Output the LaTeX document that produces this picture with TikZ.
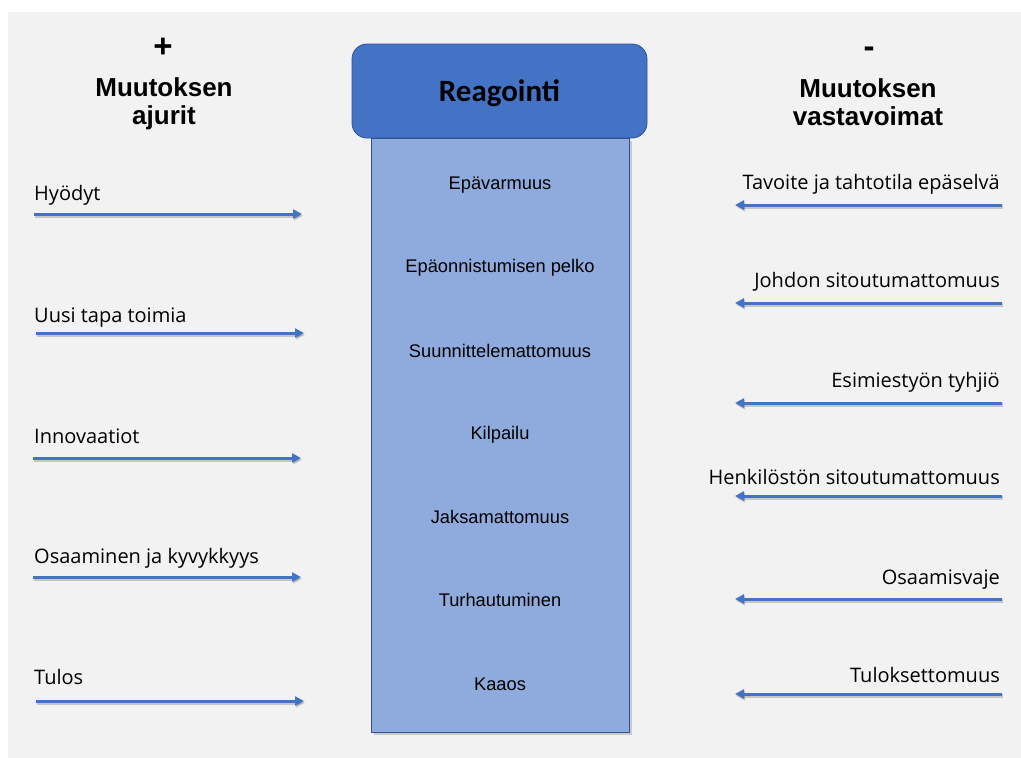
\documentclass[tikz,border=0pt]{standalone}
\usepackage{fontspec}
\setmainfont{Open Sans}
\newfontfamily\arialfont{Liberation Sans}
\newfontfamily\calibrifont{Carlito}
\usepackage{xcolor}
\usepackage{tikz}
\usetikzlibrary{arrows.meta, shadows, calc, positioning}
\definecolor{bgray}{HTML}{F2F2F2}
\definecolor{hblue}{HTML}{4472C4}
\definecolor{lblue}{HTML}{8FAADC}
\definecolor{dblue}{HTML}{2F528F}

\begin{document}
\begin{tikzpicture}%
	[x=1pt, y=-1pt,
	back/.style={fill=bgray, draw=none},
	header/.style={fill=hblue, draw=dblue, thick, rounded corners=15pt},
	column/.style={fill=lblue, draw=dblue, thick,
		drop shadow={opacity=0.35, shadow xshift=3pt, shadow yshift=-3pt}},
	title/.style={font=\arialfont\bfseries\fontsize{26}{28}\selectfont, align=center, inner sep=0pt},
	sign/.style={font=\arialfont\bfseries\fontsize{33}{36}\selectfont, inner sep=0pt},
	stage/.style={font=\arialfont\fontsize{18.3}{20}\selectfont, inner sep=0pt},
	item/.style={font=\fontsize{20}{22}\selectfont, inner sep=0pt},
	force/.style={draw=hblue, line width=3pt, -{Triangle[length=9pt,width=9pt]},
		preaction={draw=black, opacity=0.18, line width=3.4pt,
			transform canvas={shift={(1pt,-1.8pt)}}}}]
%
%% Background
%%
\useasboundingbox (0,0) rectangle (1021,758);
\fill[back] (8,12) rectangle (1021,758);
%%
%% The column and its header
%%
\draw[column] (371,138) rectangle (629,732);
\draw[header] (352,44) rectangle (647,138);
\node[font=\calibrifont\bfseries\fontsize{31}{34}\selectfont, inner sep=0pt] (reagointi) at (499.5,93) {Reagointi};
%%
\node[stage] (epavarmuus) at (500,185) {Epävarmuus};
\node[stage] (pelko) at (500,268) {Epäonnistumisen pelko};
\node[stage] (suunnittelu) at (500,351) {Suunnittelemattomuus};
\node[stage] (kilpailu) at (500,435) {Kilpailu};
\node[stage] (jaksaminen) at (500,517) {Jaksamattomuus};
\node[stage] (turhautuminen) at (500,600) {Turhautuminen};
\node[stage] (kaaos) at (500,684) {Kaaos};
%%
%% Headings
%%
\node[sign] (plus) at (163,48) {+};
\node[title, anchor=base] (ajurit) at (164,124) {Muutoksen\\ajurit};
\node[sign] (miinus) at (869,52) {-};
\node[title, anchor=base] (vastavoimat) at (868,125) {Muutoksen\\vastavoimat};
%%
%% Drivers on the left
%%
\node[item, anchor=base west] (hyodyt) at (34,200) {Hyödyt};
\node[item, anchor=base west] (tapa) at (34,322) {Uusi tapa toimia};
\node[item, anchor=base west] (innovaatiot) at (34,443) {Innovaatiot};
\node[item, anchor=base west] (osaaminen) at (34,563) {Osaaminen ja kyvykkyys};
\node[item, anchor=base west] (tulos) at (34,684) {Tulos};
%%
\coordinate (hyodyt-a) at (34,214);
\coordinate (hyodyt-b) at (302,214);
\coordinate (tapa-a) at (36,333);
\coordinate (tapa-b) at (304,333);
\coordinate (innovaatiot-a) at (33,458);
\coordinate (innovaatiot-b) at (301,458);
\coordinate (osaaminen-a) at (33,577);
\coordinate (osaaminen-b) at (301,577);
\coordinate (tulos-a) at (36,701);
\coordinate (tulos-b) at (304,701);
%%
\draw[force] (hyodyt-a) -- (hyodyt-b);
\draw[force] (tapa-a) -- (tapa-b);
\draw[force] (innovaatiot-a) -- (innovaatiot-b);
\draw[force] (osaaminen-a) -- (osaaminen-b);
\draw[force] (tulos-a) -- (tulos-b);
%%
%% Counterforces on the right
%%
\node[item, anchor=base east] (tavoite) at (1000,189) {Tavoite ja tahtotila epäselvä};
\node[item, anchor=base east] (johto) at (1000,287) {Johdon sitoutumattomuus};
\node[item, anchor=base east] (esimiestyo) at (1000,387) {Esimiestyön tyhjiö};
\node[item, anchor=base east] (henkilosto) at (1000,484) {Henkilöstön sitoutumattomuus};
\node[item, anchor=base east] (osaamisvaje) at (1000,584) {Osaamisvaje};
\node[item, anchor=base east] (tuloksettomuus) at (1000,682) {Tuloksettomuus};
%%
\coordinate (tavoite-a) at (1002,205);
\coordinate (tavoite-b) at (735,205);
\coordinate (johto-a) at (1002,303);
\coordinate (johto-b) at (735,303);
\coordinate (esimiestyo-a) at (1002,403);
\coordinate (esimiestyo-b) at (735,403);
\coordinate (henkilosto-a) at (1002,496);
\coordinate (henkilosto-b) at (735,496);
\coordinate (osaamisvaje-a) at (1002,599);
\coordinate (osaamisvaje-b) at (735,599);
\coordinate (tuloksettomuus-a) at (1002,694);
\coordinate (tuloksettomuus-b) at (735,694);
%%
\draw[force] (tavoite-a) -- (tavoite-b);
\draw[force] (johto-a) -- (johto-b);
\draw[force] (esimiestyo-a) -- (esimiestyo-b);
\draw[force] (henkilosto-a) -- (henkilosto-b);
\draw[force] (osaamisvaje-a) -- (osaamisvaje-b);
\draw[force] (tuloksettomuus-a) -- (tuloksettomuus-b);
%%
\end{tikzpicture}
\end{document}
